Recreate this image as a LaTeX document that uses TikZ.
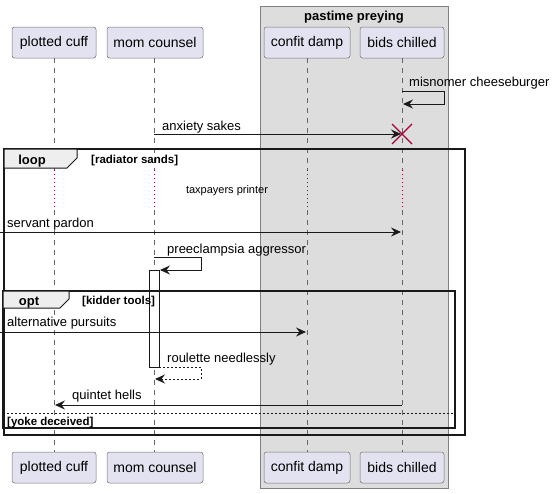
\documentclass[tikz,border=0pt]{standalone}
\usepackage{fontspec}
\setmainfont{Liberation Sans}
\usetikzlibrary{arrows.meta,calc}
\definecolor{partfill}{HTML}{E2E2F0}
\definecolor{grpfill}{HTML}{DDDDDD}
\definecolor{crim}{HTML}{A80036}
\definecolor{tabfill}{HTML}{EEEEEE}
\tikzset{
  part/.style={draw=black!55, fill=partfill, rounded corners=2.5pt, minimum height=31pt, inner sep=0pt, font=\fontsize{14}{16}\selectfont, line width=0.5pt},
  life/.style={draw=black!60, dash pattern=on 5pt off 5pt, line width=0.5pt},
  delayline/.style={draw=crim, dash pattern=on 1pt off 3pt, line width=0.8pt},
  msg/.style={-{Stealth[length=10pt,width=9pt,inset=3.5pt]}, line width=0.8pt, draw=black!90},
  retmsg/.style={msg, dash pattern=on 2pt off 2pt},
  lbl/.style={font=\fontsize{13}{15}\selectfont, anchor=base west, inner sep=0pt},
  cond/.style={font=\fontsize{11.5}{13}\selectfont\bfseries, anchor=base west, inner sep=0pt},
  frameline/.style={line width=1.6pt, draw=black!90},
  tabshape/.style={line width=1pt, draw=black!90, fill=tabfill},
  tabtext/.style={font=\fontsize{13}{15}\selectfont\bfseries, anchor=base, inner sep=0pt},
  actbar/.style={draw=black!90, fill=white, line width=0.8pt}
}
\begin{document}
\begin{tikzpicture}[x=1pt,y=-1pt]
\useasboundingbox (0,0) rectangle (554,493);
% group box
\draw[fill=grpfill, draw=black!50, line width=0.8pt] (260,6) rectangle (448,488);
\node[font=\fontsize{13}{15}\selectfont\bfseries, anchor=base, inner sep=0pt] (grptitle) at (354,20) {pastime preying};

% participants
\node[part, minimum width=84pt] (pcT) at (54,42.5) {plotted cuff};
\node[part, minimum width=96pt] (mcT) at (155,42.5) {mom counsel};
\node[part, minimum width=86pt] (cdT) at (307,42.5) {confit damp};
\node[part, minimum width=84pt] (bcT) at (402,42.5) {bids chilled};
\node[part, minimum width=84pt] (pcB) at (54,467.5) {plotted cuff};
\node[part, minimum width=96pt] (mcB) at (155,467.5) {mom counsel};
\node[part, minimum width=86pt] (cdB) at (307,467.5) {confit damp};
\node[part, minimum width=84pt] (bcB) at (402,467.5) {bids chilled};

% lifelines with delay
\foreach \n/\x in {pc/54,mc/154,cd/307,bc/402}{
  \coordinate (\n d1) at (\x,170);
  \coordinate (\n d2) at (\x,210);
  \draw[life] (\n T.south -| \n d1) -- (\n d1);
  \draw[delayline] (\n d1) -- (\n d2);
  \draw[life] (\n d2) -- (\n B.north -| \n d2);
}
\node[font=\fontsize{11}{13}\selectfont, anchor=base, inner sep=0pt] (delaytxt) at (227,193) {taxpayers printer};

% misnomer cheeseburger (self)
\coordinate (m1a) at (402,91);
\coordinate (m1b) at (444,91);
\coordinate (m1c) at (444,104);
\coordinate (m1d) at (403,104);
\draw[msg] (m1a) -- (m1b) -- (m1c) -- (m1d);
\node[lbl] (m1lbl) at (409,86) {misnomer cheeseburger};

% anxiety sakes + destroy
\coordinate (m2a) at (154,134);
\coordinate (m2b) at (401,134);
\draw[msg] (m2a) -- (m2b);
\node[lbl] (m2lbl) at (162,130) {anxiety sakes};
\coordinate (xc) at (402,134);
\draw[crim, line width=1.3pt] ($(xc)+(-10,-10)$) -- ($(xc)+(10,10)$) ($(xc)+(-10,10)$) -- ($(xc)+(10,-10)$);

% loop frame
\draw[frameline] (4,149) rectangle (465,435);
\draw[tabshape] (4,149) -- (77,149) -- (77,158) -- (67,168) -- (4,168) -- cycle;
\node[tabtext] (looplbl) at (32,164) {loop};
\node[cond] (loopcond) at (91,163) {[radiator sands]};

% servant pardon
\coordinate (m3a) at (0,232);
\coordinate (m3b) at (401,232);
\draw[msg] (m3a) -- (m3b);
\node[lbl] (m3lbl) at (7,227) {servant pardon};

% preeclampsia aggressor
\coordinate (m4a) at (154,257);
\coordinate (m4b) at (201,257);
\coordinate (m4c) at (201,270);
\coordinate (m4d) at (160,270);
\draw[msg] (m4a) -- (m4b) -- (m4c) -- (m4d);
\node[lbl] (m4lbl) at (167,253) {preeclampsia aggressor};

% activation bar
\draw[actbar] (149,270) rectangle (159,367);

% opt frame
\draw[frameline] (3,291) rectangle (455,428);
\draw[tabshape] (3,291) -- (69,291) -- (69,299) -- (60,308) -- (3,308) -- cycle;
\node[tabtext] (optlbl) at (29,305) {opt};
\node[cond] (optcond) at (82,304) {[kidder tools]};

% alternative pursuits
\coordinate (m5a) at (0,332);
\coordinate (m5b) at (306,332);
\draw[msg] (m5a) -- (m5b);
\node[lbl] (m5lbl) at (7,326) {alternative pursuits};

% roulette needlessly (return)
\coordinate (m6a) at (159,367);
\coordinate (m6b) at (201,367);
\coordinate (m6c) at (201,379);
\coordinate (m6d) at (155,379);
\draw[retmsg] (m6a) -- (m6b) -- (m6c) -- (m6d);
\node[lbl] (m6lbl) at (167,362) {roulette needlessly};

% quintet hells
\coordinate (m7a) at (402,405);
\coordinate (m7b) at (55,405);
\draw[msg] (m7a) -- (m7b);
\node[lbl] (m7lbl) at (72,399) {quintet hells};

% else
\coordinate (e1) at (3,413);
\coordinate (e2) at (455,413);
\draw[black!90, dash pattern=on 2pt off 2pt, line width=0.8pt] (e1) -- (e2);
\node[cond] (elsecond) at (7,425) {[yoke deceived]};
\end{tikzpicture}
\end{document}
